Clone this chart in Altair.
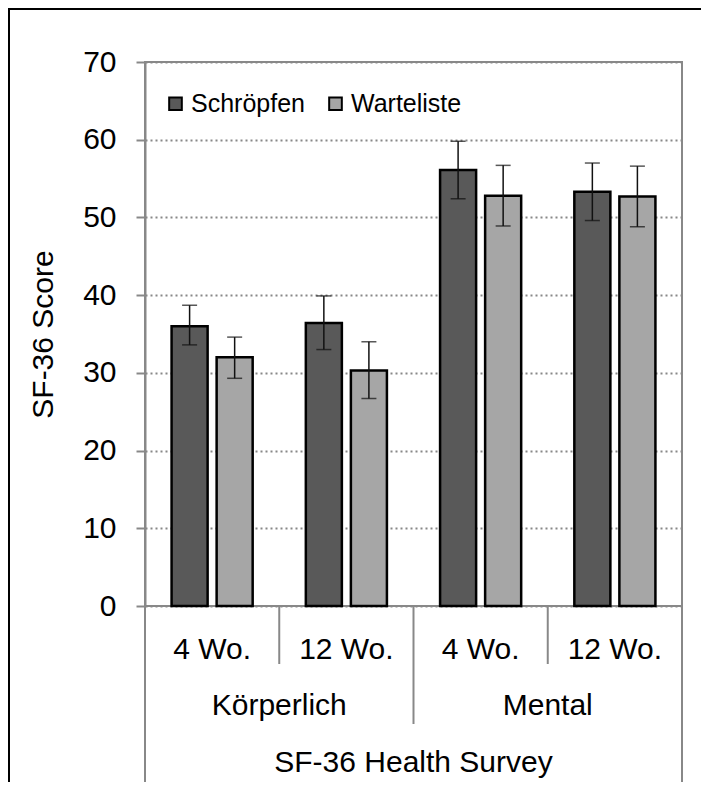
import altair as alt
import pandas as pd

# ---- data ----
categories = ["K4", "K12", "M4", "M12"]
time_labels = ["4 Wo.", "12 Wo.", "4 Wo.", "12 Wo."]
groups = ["Schröpfen", "Warteliste"]
schroepfen_mean = [36.0, 36.4, 56.1, 53.3]
schroepfen_low = [33.6, 33.0, 52.4, 49.6]
schroepfen_high = [38.7, 39.9, 59.8, 57.0]
warteliste_mean = [32.0, 30.3, 52.8, 52.7]
warteliste_low = [29.3, 26.7, 48.9, 48.8]
warteliste_high = [34.6, 34.0, 56.7, 56.6]
dimension_labels = ["Körperlich", "Mental"]
dimension_anchor = ["K12", "M12"]
survey_label = ["SF-36 Health Survey"]
survey_anchor = ["M4"]
y_ticks = [0, 10, 20, 30, 40, 50, 60, 70]

FONT = "Liberation Sans"
W, H = 537, 544

rows = []
for i, c in enumerate(categories):
    rows.append(dict(cat=c, group=groups[0], mean=schroepfen_mean[i],
                     low=schroepfen_low[i], high=schroepfen_high[i]))
    rows.append(dict(cat=c, group=groups[1], mean=warteliste_mean[i],
                     low=warteliste_low[i], high=warteliste_high[i]))
df = pd.DataFrame(rows)

xscale = alt.Scale(domain=categories, paddingInner=0, paddingOuter=0)
offscale = alt.Scale(domain=groups, paddingInner=0.2, paddingOuter=0.59)
yscale = alt.Scale(domain=[0, 70], nice=False)
yaxis = alt.Axis(values=y_ticks, title="SF-36 Score", tickSize=9, tickWidth=2,
                 tickColor="#888888", domainColor="#888888", domainWidth=2,
                 labelFontSize=30, labelFont=FONT, labelColor="black",
                 labelPadding=20, grid=True, gridDash=[2, 3], gridWidth=2,
                 gridColor="#888888", titleFontSize=30, titleFont=FONT,
                 titleFontWeight="normal", titleColor="black", titlePadding=24)

X = alt.X("cat:N", scale=xscale, axis=None)
XO = alt.XOffset("group:N", scale=offscale)

base = alt.Chart(df)

bars = base.mark_bar(stroke="black", strokeWidth=2.5).encode(
    x=X, xOffset=XO,
    y=alt.Y("mean:Q", scale=yscale, axis=yaxis),
    color=alt.Color("group:N",
                    scale=alt.Scale(domain=groups, range=["#595959", "#a6a6a6"]),
                    legend=alt.Legend(title=None, orient="none", legendX=18, legendY=29,
                                      direction="horizontal", symbolType="square",
                                      symbolSize=160, symbolStrokeColor="black",
                                      symbolStrokeWidth=2, labelFontSize=25,
                                      labelFont=FONT, labelColor="black",
                                      labelOffset=3, columnPadding=18, padding=0)),
)

err = base.mark_rule(color="#111111", strokeWidth=1.5).encode(
    x=X, xOffset=XO,
    y=alt.Y("low:Q", scale=yscale, axis=yaxis), y2="high:Q",
)
cap_lo = base.mark_tick(color="#111111", size=15, thickness=1.5).encode(
    x=X, xOffset=XO, y=alt.Y("low:Q", scale=yscale, axis=yaxis),
)
cap_hi = base.mark_tick(color="#111111", size=15, thickness=1.5).encode(
    x=X, xOffset=XO, y=alt.Y("high:Q", scale=yscale, axis=yaxis),
)

# category axis decorations
cat_df = pd.DataFrame({"cat": categories, "label": time_labels})
dim_df = pd.DataFrame({"cat": dimension_anchor, "label": dimension_labels})
sur_df = pd.DataFrame({"cat": survey_anchor, "label": survey_label})

sep_short = alt.Chart(pd.DataFrame({"cat": ["K12", "M12"]})).mark_rule(
    color="#888888", strokeWidth=2).encode(
    x=alt.X("cat:N", scale=xscale, axis=None, bandPosition=0),
    y=alt.value(H), y2=alt.value(H + 58))
sep_mid = alt.Chart(pd.DataFrame({"cat": ["M4"]})).mark_rule(
    color="#888888", strokeWidth=2).encode(
    x=alt.X("cat:N", scale=xscale, axis=None, bandPosition=0),
    y=alt.value(H), y2=alt.value(H + 118))
sep_left = alt.Chart(pd.DataFrame({"cat": ["K4"]})).mark_rule(
    color="#888888", strokeWidth=2).encode(
    x=alt.X("cat:N", scale=xscale, axis=None, bandPosition=0),
    y=alt.value(H), y2=alt.value(H + 176))
sep_right = alt.Chart(pd.DataFrame({"cat": ["M12"]})).mark_rule(
    color="#888888", strokeWidth=2).encode(
    x=alt.X("cat:N", scale=xscale, axis=None, bandPosition=1),
    y=alt.value(H), y2=alt.value(H + 176))

txt_time = alt.Chart(cat_df).mark_text(fontSize=30, font=FONT, color="black",
                                       baseline="middle").encode(
    x=alt.X("cat:N", scale=xscale, axis=None), y=alt.value(H + 44), text="label:N")
txt_dim = alt.Chart(dim_df).mark_text(fontSize=30, font=FONT, color="black",
                                      baseline="middle").encode(
    x=alt.X("cat:N", scale=xscale, axis=None, bandPosition=0),
    y=alt.value(H + 100), text="label:N")
txt_sur = alt.Chart(sur_df).mark_text(fontSize=30, font=FONT, color="black",
                                      baseline="middle").encode(
    x=alt.X("cat:N", scale=xscale, axis=None, bandPosition=0),
    y=alt.value(H + 157), text="label:N")

frame = alt.Chart(pd.DataFrame({"f": [0]})).mark_rect(
    fillOpacity=0, stroke="black", strokeWidth=2).encode(
    x=alt.value(-136), x2=alt.value(W + 100), y=alt.value(-53), y2=alt.value(H + 300))

chart = alt.layer(
    bars, err, cap_lo, cap_hi,
    sep_short, sep_mid, sep_left, sep_right,
    txt_time, txt_dim, txt_sur, frame,
).properties(
    width=W, height=H,
    autosize=alt.AutoSizeParams(type="none"),
    padding={"left": 137, "top": 54, "right": 19, "bottom": 176},
).configure_view(stroke="#888888", strokeWidth=2)

chart.save("out.html", embed_options={"renderer": "svg", "actions": False})
